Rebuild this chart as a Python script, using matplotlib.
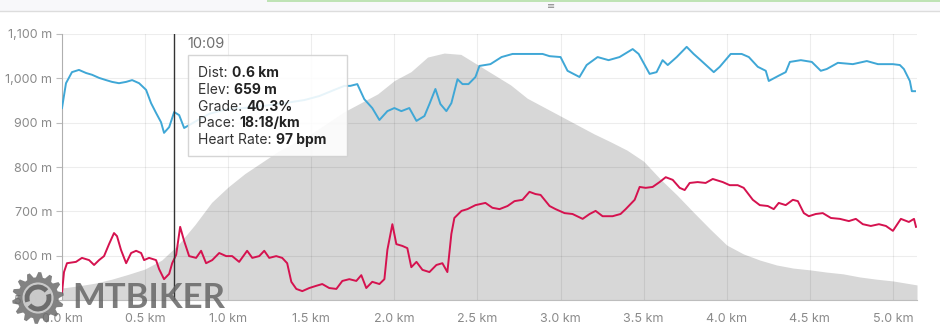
import numpy as np
import matplotlib
matplotlib.use("Agg")
import matplotlib.pyplot as plt
from matplotlib.patches import Rectangle, Polygon, Circle, Arc
from matplotlib.text import Annotation
from matplotlib.ticker import FuncFormatter, MultipleLocator

plt.rcParams['font.family'] = ['Inter', 'DejaVu Sans']

# elevation profile (grey area), km / m
elev_km = [0.0, 0.1, 0.2, 0.3, 0.4, 0.5, 0.6, 0.7, 0.8, 0.9, 1.0, 1.1, 1.2, 1.3, 1.4,
           1.5, 1.6, 1.7, 1.8, 1.9, 2.0, 2.1, 2.2, 2.3, 2.4, 2.5, 2.6, 2.7, 2.8, 2.9,
           3.0, 3.1, 3.2, 3.3, 3.4, 3.5, 3.6, 3.7, 3.8, 3.9, 4.0, 4.1, 4.2, 4.3, 4.4,
           4.5, 4.6, 4.7, 4.8, 4.9, 5.0, 5.145]
elev_m = [527, 532, 538, 547, 558, 570, 590, 625, 670, 720, 755, 785, 810, 835, 855,
          875, 900, 925, 945, 965, 995, 1015, 1048, 1057, 1054, 1031, 1008, 985, 955, 935,
          915, 895, 875, 857, 838, 813, 773, 737, 698, 660, 624, 604, 590, 579, 572,
          568, 563, 559, 552, 547, 543, 534]

# blue series
blue_km = [0.000, 0.024, 0.060, 0.102, 0.145, 0.181, 0.223, 0.265, 0.301, 0.343, 0.386,
           0.422, 0.464, 0.506, 0.536, 0.566, 0.596, 0.614, 0.645, 0.675, 0.705, 0.735,
           0.795, 0.886, 0.976, 1.096, 1.217, 1.337, 1.458, 1.548, 1.639, 1.699, 1.735,
           1.777, 1.819, 1.867, 1.910, 1.958, 2.000, 2.042, 2.090, 2.133, 2.181, 2.211,
           2.247, 2.277, 2.313, 2.343, 2.380, 2.410, 2.446, 2.488, 2.512, 2.578, 2.645,
           2.711, 2.801, 2.892, 2.934, 3.000, 3.042, 3.114, 3.157, 3.223, 3.289, 3.355,
           3.434, 3.470, 3.536, 3.578, 3.614, 3.645, 3.699, 3.759, 3.801, 3.843, 3.922,
           3.958, 4.024, 4.090, 4.133, 4.187, 4.235, 4.253, 4.313, 4.355, 4.380, 4.446,
           4.512, 4.566, 4.602, 4.669, 4.759, 4.843, 4.910, 5.000, 5.042, 5.066, 5.102,
           5.114, 5.133]
blue_v = [933, 989, 1014, 1019, 1012, 1008, 1001, 996, 992, 989, 992,
          996, 989, 974, 944, 922, 901, 877, 890, 924, 917, 888,
          901, 920, 929, 933, 938, 944, 951, 960, 974, 983, 983,
          987, 953, 933, 906, 926, 933, 926, 933, 904, 915, 942,
          976, 942, 926, 944, 998, 987, 987, 1003, 1028, 1032, 1048,
          1055, 1055, 1055, 1050, 1048, 1017, 1003, 1030, 1048, 1041, 1048,
          1066, 1055, 1010, 1014, 1041, 1030, 1048, 1071, 1055, 1041, 1014,
          1026, 1055, 1055, 1048, 1026, 1017, 994, 1006, 1014, 1037, 1041,
          1037, 1017, 1021, 1035, 1032, 1039, 1032, 1032, 1030, 1021, 994,
          971, 971]

# red series
red_km = [0.000, 0.012, 0.030, 0.084, 0.120, 0.163, 0.193, 0.223, 0.253, 0.283, 0.313,
          0.331, 0.355, 0.386, 0.416, 0.446, 0.476, 0.494, 0.524, 0.566, 0.584, 0.614,
          0.645, 0.663, 0.687, 0.711, 0.735, 0.765, 0.807, 0.837, 0.867, 0.904, 0.946,
          0.988, 1.024, 1.066, 1.114, 1.145, 1.187, 1.217, 1.247, 1.289, 1.325, 1.355,
          1.380, 1.410, 1.446, 1.488, 1.530, 1.566, 1.608, 1.651, 1.687, 1.729, 1.771,
          1.801, 1.831, 1.867, 1.910, 1.940, 1.958, 1.988, 2.012, 2.048, 2.078, 2.102,
          2.133, 2.169, 2.211, 2.253, 2.289, 2.319, 2.343, 2.361, 2.404, 2.440, 2.488,
          2.548, 2.590, 2.633, 2.681, 2.723, 2.771, 2.813, 2.849, 2.880, 2.934, 2.970,
          3.024, 3.072, 3.133, 3.175, 3.211, 3.253, 3.313, 3.361, 3.392, 3.446, 3.476,
          3.512, 3.554, 3.596, 3.633, 3.675, 3.717, 3.747, 3.777, 3.825, 3.873, 3.916,
          3.976, 4.018, 4.066, 4.102, 4.157, 4.199, 4.247, 4.283, 4.313, 4.355, 4.398,
          4.428, 4.464, 4.494, 4.536, 4.578, 4.627, 4.681, 4.735, 4.777, 4.819, 4.867,
          4.916, 4.958, 5.000, 5.048, 5.096, 5.127, 5.139]
red_v = [516, 563, 583, 586, 595, 590, 579, 590, 599, 626, 651,
         644, 613, 583, 606, 611, 606, 590, 595, 590, 570, 547,
         559, 583, 602, 665, 633, 599, 595, 611, 583, 590, 606,
         599, 599, 586, 611, 595, 599, 611, 595, 599, 595, 583,
         541, 525, 520, 527, 532, 536, 527, 525, 543, 547, 543,
         556, 527, 541, 536, 547, 613, 671, 626, 622, 617, 574,
         586, 568, 563, 579, 583, 563, 649, 685, 701, 705, 714,
         719, 708, 705, 712, 723, 726, 744, 739, 737, 712, 705,
         696, 694, 683, 694, 701, 689, 689, 694, 705, 726, 755,
         753, 755, 766, 777, 771, 753, 748, 764, 766, 764, 773,
         766, 759, 759, 753, 726, 714, 712, 705, 719, 714, 726,
         723, 696, 689, 694, 696, 685, 683, 678, 683, 671, 667,
         671, 667, 656, 683, 676, 683, 665]

cursor_km = 0.675
cursor_time = "10:09"
tip_labels = ["Dist: ", "Elev: ", "Grade: ", "Pace: ", "Heart Rate: "]
tip_values = ["0.6 km", "659 m", "40.3%", "18:18/km", "97 bpm"]

W, H = 940, 335
fig = plt.figure(figsize=(W / 100, H / 100), dpi=100)
ax = fig.add_axes([62 / W, 1 - 300 / H, (917 - 62) / W, (300 - 34) / H])

ax.fill_between(elev_km, elev_m, 500, color='#d7d7d7', lw=0, zorder=1)
ax.plot(blue_km, blue_v, color='#3fa7d6', lw=1.4, zorder=3)
ax.plot(red_km, red_v, color='#d5124f', lw=1.4, zorder=3)
ax.axvline(cursor_km, color='#333333', lw=1, zorder=4)

ax.set_xlim(0, 5.145)
ax.set_ylim(500, 1100)
ax.xaxis.set_major_locator(MultipleLocator(0.5))
ax.yaxis.set_major_locator(MultipleLocator(100))
ax.xaxis.set_major_formatter(FuncFormatter(lambda v, p: f"{v:.1f} km"))
ax.yaxis.set_major_formatter(FuncFormatter(lambda v, p: f"{int(v):,} m"))
ax.grid(True, color='black', alpha=0.07, lw=0.8, zorder=2)
ax.set_axisbelow(False)
for s in ['top', 'right']:
    ax.spines[s].set_visible(False)
for s in ['left', 'bottom']:
    ax.spines[s].set_color('#bdbdbd')
    ax.spines[s].set_zorder(2)
ax.tick_params(axis='y', length=4, color='#bdbdbd', labelcolor='#8a8a8a', labelsize=9, pad=3)
ax.tick_params(axis='x', length=0, labelcolor='#8a8a8a', labelsize=9, pad=9)

# tooltip
fig.text(187 / W, 1 - 44 / H, cursor_time, fontsize=10.5, color='#6f6f6f', va='center')
fig.add_artist(Rectangle((188 / W, 1 - 156 / H), (347 - 188) / W, (156 - 55) / H,
                         transform=fig.transFigure, facecolor='white', alpha=0.88,
                         edgecolor='#d0d0d0', lw=1, zorder=5))
for i, (lab, val) in enumerate(zip(tip_labels, tip_values)):
    t = fig.text(198 / W, 1 - (73 + i * 16.8) / H, lab, fontsize=10, color='#333333',
                 va='center', zorder=6)
    a = Annotation(val, xy=(1, 0.5), xycoords=t, va='center', ha='left', fontsize=10,
                   fontweight='bold', color='#222222', annotation_clip=False)
    a.set_zorder(6)
    fig.add_artist(a)

# top UI strip
fig.add_artist(Rectangle((0, 1 - 11 / H), 1, 11 / H, transform=fig.transFigure,
                         facecolor='#f8f8fa', edgecolor='none'))
fig.add_artist(Rectangle((267 / W, 1 - 2 / H), (W - 267) / W, 2 / H, transform=fig.transFigure,
                         facecolor='#bfe3b5', edgecolor='none'))
fig.add_artist(plt.Line2D([0, 1], [1 - 11 / H, 1 - 11 / H], transform=fig.transFigure,
                          color='#dddddd', lw=1))
fig.text(551 / W, 1 - 6 / H, '≡', fontsize=7, color='#888888', ha='center', va='center')

# watermark
lax = fig.add_axes([(38 - 28) / W, 1 - (298 + 28) / H, 56 / W, 56 / H])
lax.set_xlim(-1.08, 1.08)
lax.set_ylim(-1.08, 1.08)
lax.axis('off')
n_teeth = 14
ang = np.linspace(0, 2 * np.pi, n_teeth * 4, endpoint=False)
rad = np.tile([1.0, 1.0, 0.8, 0.8], n_teeth)
gear = np.column_stack([rad * np.cos(ang + 0.1), rad * np.sin(ang + 0.1)])
lax.add_patch(Polygon(gear, closed=True, facecolor='#6c6c6c', alpha=0.85, lw=0))
lax.add_patch(Circle((0, 0), 0.6, facecolor='#d2d2d2', alpha=0.9, lw=0))
lax.add_patch(Arc((0, 0), 0.85, 0.85, theta1=40, theta2=200, color='#6c6c6c', lw=3.5))
lax.add_patch(Arc((0, 0), 0.85, 0.85, theta1=220, theta2=380, color='#6c6c6c', lw=3.5))
fig.text(72 / W, 1 - 298 / H, 'MTBIKER', fontsize=25, fontweight='bold', color='#666666',
         alpha=0.85, va='center', ha='left', family=['Lato', 'DejaVu Sans'])

fig.savefig('out.png', dpi=100)
